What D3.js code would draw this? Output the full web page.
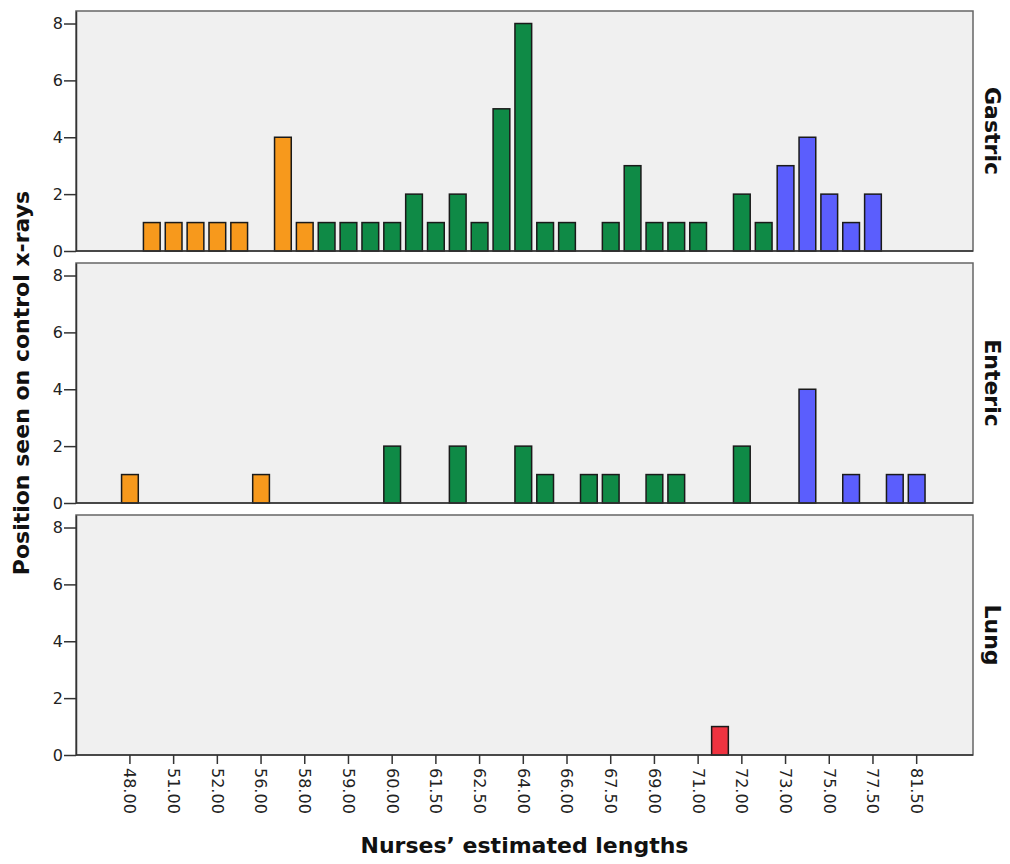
<!DOCTYPE html>
<html>
<head>
<meta charset="utf-8">
<script src="https://cdn.jsdelivr.net/npm/d3@7"></script>
<style>
  body { margin: 0; background: #fff; }
  .axis text { font-family: "DejaVu Sans", sans-serif; font-size: 16px; fill: #222; }
  .axis path, .axis line { stroke: #333; stroke-width: 1.5px; }
  .title { font-family: "DejaVu Sans", sans-serif; font-weight: bold; font-size: 22px; fill: #111; }
</style>
</head>
<body>
<div id="graph"></div>
<script>
(function(){
	"use strict";

	// every category on the x axis (only every other one gets a label)
	var lengths = ["48.00","50.00","51.00","51.50","52.00","54.00","56.00","57.00","58.00","58.50",
		"59.00","59.50","60.00","61.00","61.50","62.00","62.50","63.00","64.00","65.00",
		"66.00","67.00","67.50","68.00","69.00","70.00","71.00","71.50","72.00","72.50",
		"73.00","74.00","75.00","76.00","77.50","80.00","81.50"];
	var tickLabels = ["48.00","51.00","52.00","56.00","58.00","59.00","60.00","61.50","62.50","64.00",
		"66.00","67.50","69.00","71.00","72.00","73.00","75.00","77.50","81.50"];
	var yTicks = [0, 2, 4, 6, 8];
	var panels = ["Gastric", "Enteric", "Lung"];

	// counts per length, same order as lengths
	var gastricCounts = [0,1,1,1,1,1,0,4,1,1, 1,1,1,2,1,2,1,5,8,1, 1,0,1,3,1,1,1,0,2,1, 3,4,2,1,2,0,0];
	var entericCounts = [1,0,0,0,0,0,1,0,0,0, 0,0,2,0,0,2,0,0,2,1, 0,1,1,0,1,1,0,0,2,0, 0,4,0,1,0,1,1];
	var lungCounts    = [0,0,0,0,0,0,0,0,0,0, 0,0,0,0,0,0,0,0,0,0, 0,0,0,0,0,0,0,1,0,0, 0,0,0,0,0,0,0];

	// colour group of each length (gastric / enteric), lung bars have their own group
	var lengthGroup = ["a","a","a","a","a","a","a","a","a","b", "b","b","b","b","b","b","b","b","b","b",
		"b","b","b","b","b","b","b","b","b","b", "c","c","c","c","c","c","c"];
	var lungGroup = "d";

	var countsByPanel = { Gastric: gastricCounts, Enteric: entericCounts, Lung: lungCounts };

	var width = 1010, height = 864;
	var panelL = 76, panelR = 973, panelH = 240;
	var panelTop = [11, 263, 515];

	var svg = d3.select("#graph").append("svg")
		.attr("width", width)
		.attr("height", height);

	var x = d3.scaleBand()
		.domain(lengths)
		.range([119, 927.6])
		.paddingInner(0.235)
		.paddingOuter(0.1175);

	var y = d3.scaleLinear()
		.domain([0, 8.44])
		.range([panelH, 0]);

	var colour = d3.scaleOrdinal()
		.domain(["a", "b", "c", "d"])
		.range(["#F7991C", "#0F8A46", "#5B5EFD", "#EF3340"]);

	panels.forEach(function(name, p) {
		var g = svg.append("g").attr("transform", "translate(0," + panelTop[p] + ")");

		g.append("rect")
			.attr("x", panelL)
			.attr("y", 0)
			.attr("width", panelR - panelL)
			.attr("height", panelH)
			.attr("fill", "#F0F0F0")
			.attr("stroke", "#666")
			.attr("stroke-width", 1.5);

		var bars = countsByPanel[name].map(function(n, i) {
			return { len: lengths[i], n: n, grp: name === "Lung" ? lungGroup : lengthGroup[i] };
		}).filter(function(d) { return d.n > 0; });

		g.selectAll(".bar")
			.data(bars)
			.enter().append("rect")
			.attr("class", "bar")
			.attr("x", function(d) { return x(d.len); })
			.attr("y", function(d) { return y(d.n); })
			.attr("width", x.bandwidth())
			.attr("height", function(d) { return y(0) - y(d.n); })
			.attr("fill", function(d) { return colour(d.grp); })
			.attr("stroke", "#1a1a1a")
			.attr("stroke-width", 1.5);

		g.append("g")
			.attr("class", "axis")
			.attr("transform", "translate(" + panelL + ",0)")
			.call(d3.axisLeft(y).tickValues(yTicks).tickSize(12).tickPadding(1).tickSizeOuter(0));

		// baseline
		g.append("line")
			.attr("x1", panelL).attr("x2", panelR)
			.attr("y1", y(0)).attr("y2", y(0))
			.attr("stroke", "#333").attr("stroke-width", 1.5);

		// facet label on the right
		g.append("text")
			.attr("class", "title")
			.attr("transform", "translate(985," + (panelH / 2) + ") rotate(90)")
			.attr("text-anchor", "middle")
			.text(name);
	});

	// x axis under the last panel
	var xAxis = svg.append("g")
		.attr("class", "axis")
		.attr("transform", "translate(0," + (panelTop[2] + panelH) + ")")
		.call(d3.axisBottom(x).tickValues(tickLabels).tickSize(9).tickSizeOuter(0));
	xAxis.select(".domain").remove();
	xAxis.selectAll("text")
		.attr("transform", "rotate(90)")
		.attr("x", 13)
		.attr("y", 0)
		.attr("dy", "0.35em")
		.attr("text-anchor", "start");

	svg.append("text")
		.attr("class", "title")
		.attr("x", (panelL + panelR) / 2)
		.attr("y", 853)
		.attr("text-anchor", "middle")
		.text("Nurses\u2019 estimated lengths");

	svg.append("text")
		.attr("class", "title")
		.attr("transform", "translate(29," + ((panelTop[0] + panelTop[2] + panelH) / 2) + ") rotate(-90)")
		.attr("text-anchor", "middle")
		.text("Position seen on control x-rays");

})();
</script>
</body>
</html>
